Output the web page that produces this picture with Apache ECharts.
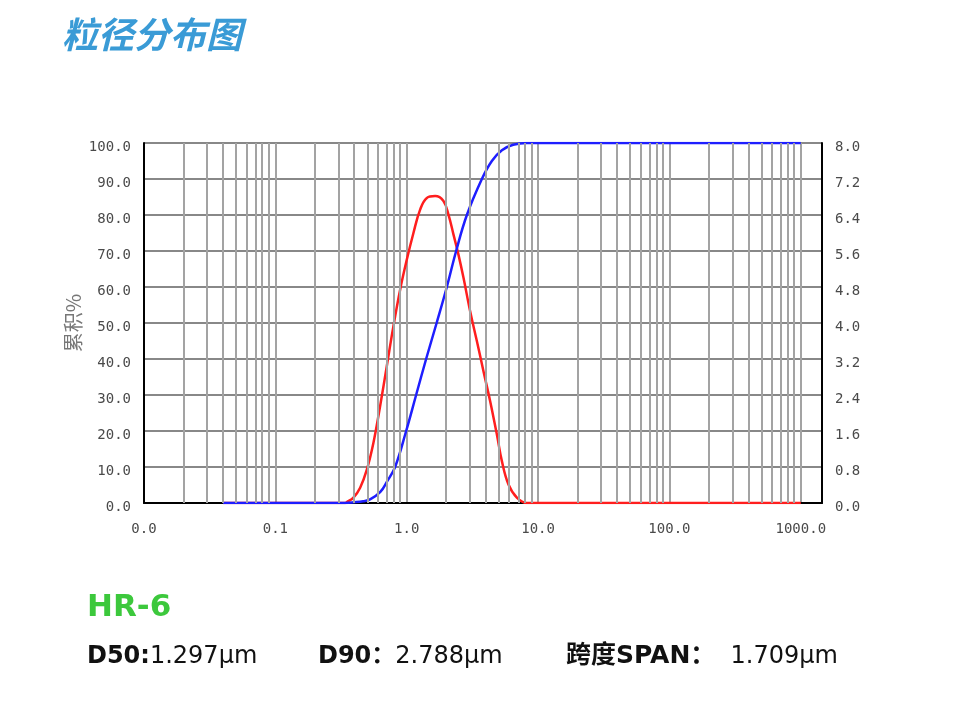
<!DOCTYPE html>
<html><head><meta charset="utf-8">
<script src="https://cdn.jsdelivr.net/npm/echarts@6/dist/echarts.min.js"></script>
<style>html,body{margin:0;padding:0;background:#fff}#c{width:955px;height:705px}</style>
</head><body><div id="c"></div>
<script>
// ---- data ----
const xTickLabels = ['0.0', '0.1', '1.0', '10.0', '100.0', '1000.0'];
// particle size (µm) and differential distribution (%, right axis)
const redSize = [0.04, 0.34, 0.35, 0.393, 0.442, 0.497, 0.558, 0.627, 0.705, 0.792, 0.891, 1.002, 1.125, 1.265, 1.423, 1.646, 1.904, 2.078, 2.268, 2.476, 2.703, 3.040, 3.419, 3.839, 4.317, 4.857, 5.302, 5.953, 6.895, 8.22, 1000];
const redFreq = [0, 0, 0.02, 0.12, 0.34, 0.74, 1.34, 2.15, 3.04, 3.93, 4.74, 5.41, 6.00, 6.52, 6.78, 6.82, 6.71, 6.41, 5.97, 5.52, 5.01, 4.26, 3.60, 2.93, 2.26, 1.52, 0.93, 0.41, 0.12, 0, 0];
// particle size (µm) and cumulative (%, left axis)
const blueSize = [0.04, 0.34, 0.40, 0.466, 0.526, 0.627, 0.709, 0.816, 0.990, 1.179, 1.405, 1.689, 2.020, 2.378, 2.870, 3.733, 4.447, 5.302, 6.462, 8.22, 1000];
const blueCum = [0, 0, 0.2, 0.5, 1, 3, 6, 10, 20, 30, 40, 50, 60, 70, 80, 90, 95, 98, 99.5, 100, 100];

const titleText = '粒径分布图';
const sampleName = 'HR-6';
const yName = '累积%';

// ---- build ----
const xMin = -2, xMax = Math.log10(1450);
const minorTicks = [];
for (let e = -2; e <= 2; e++) for (let k = 2; k <= 9; k++) minorTicks.push({ xAxis: Math.log10(k) + e });

const labelFont = { fontFamily: 'DejaVu Sans Mono', fontSize: 14, color: '#4a4a4a' };
const vGrid = { color: '#a3a3a3', width: 2 };
const statFont = 'DejaVu Sans, Noto Sans CJK SC';
const statRich = {
  b: { fontSize: 24, fontWeight: 'bold', fontFamily: statFont, fill: '#111' },
  b2: { fontSize: 25, fontWeight: 'bold', fontFamily: statFont, fill: '#111' },
  n: { fontSize: 24, fontFamily: statFont, fill: '#111' }
};
const chart = echarts.init(document.getElementById('c'), null, { renderer: 'canvas' });
chart.setOption({
  animation: false,
  backgroundColor: '#fff',
  title: {
    text: titleText, left: 57, top: 11,
    textStyle: { color: '#3a9bd6', fontSize: 36, fontWeight: 'bold', fontStyle: 'italic', fontFamily: 'Noto Sans CJK SC' }
  },
  grid: { left: 144, top: 143, width: 678, height: 360 },
  xAxis: {
    type: 'value', min: xMin, max: xMax, interval: 1,
    axisLine: { show: true, onZero: false, lineStyle: { color: '#000', width: 2 } },
    axisTick: { show: false },
    splitLine: { show: true, lineStyle: vGrid },
    axisLabel: Object.assign({
      margin: 19, showMaxLabel: false,
      formatter: v => {
        const r = Math.round(v);
        return Math.abs(v - r) < 1e-6 && r >= -2 && r <= 3 ? xTickLabels[r + 2] : '';
      }
    }, labelFont)
  },
  yAxis: [{
    type: 'value', min: 0, max: 100, interval: 10, position: 'left',
    name: yName, nameLocation: 'middle', nameGap: 61, nameRotate: 90, nameMoveOverlap: false,
    nameTextStyle: { fontSize: 20, color: '#777', fontFamily: 'Noto Sans CJK SC' },
    axisLine: { show: true, onZero: false, lineStyle: { color: '#000', width: 2 } },
    axisTick: { show: false },
    splitLine: { show: true, lineStyle: { color: '#888', width: 2 } },
    axisLabel: Object.assign({ margin: 13, verticalAlign: 'top', lineHeight: 8, formatter: v => v.toFixed(1) }, labelFont)
  }, {
    type: 'value', min: 0, max: 8, interval: 0.8, position: 'right',
    axisLine: { show: true, onZero: false, lineStyle: { color: '#000', width: 2 } },
    axisTick: { show: false },
    splitLine: { show: false },
    axisLabel: Object.assign({ margin: 13, verticalAlign: 'top', lineHeight: 8, formatter: v => v.toFixed(1) }, labelFont)
  }],
  series: [{
    type: 'line', data: [[xMin, 0]], symbol: 'none', silent: true, z: 1,
    lineStyle: { width: 0 },
    markLine: {
      silent: true, symbol: ['none', 'none'], label: { show: false },
      lineStyle: Object.assign({ type: 'solid' }, vGrid),
      emphasis: { disabled: true },
      data: minorTicks
    }
  }, {
    type: 'line', yAxisIndex: 1, z: 3,
    data: redSize.map((d, i) => [Math.log10(d), redFreq[i]]),
    smooth: 0.4, symbol: 'none',
    lineStyle: { color: '#ff1e1e', width: 2.5 }
  }, {
    type: 'line', yAxisIndex: 0, z: 4,
    data: blueSize.map((d, i) => [Math.log10(d), blueCum[i]]),
    smooth: 0.4, symbol: 'none',
    lineStyle: { color: '#1e1eff', width: 2.5 }
  }],
  graphic: [{
    type: 'text', left: 87, top: 592,
    style: { text: sampleName, fill: '#3cc83c', fontSize: 31, fontWeight: 'bold', fontFamily: 'DejaVu Sans' }
  }, {
    type: 'text', left: 87, top: 645,
    style: { text: '{b|D50:}{n|1.297µm}', rich: statRich }
  }, {
    type: 'text', left: 318, top: 645,
    style: { text: '{b|D90：}{n|2.788µm}', rich: statRich }
  }, {
    type: 'text', left: 566, top: 644,
    style: { text: '{b2|跨度SPAN：}{n|  1.709µm}', rich: statRich }
  }]
});
</script>
</body></html>
